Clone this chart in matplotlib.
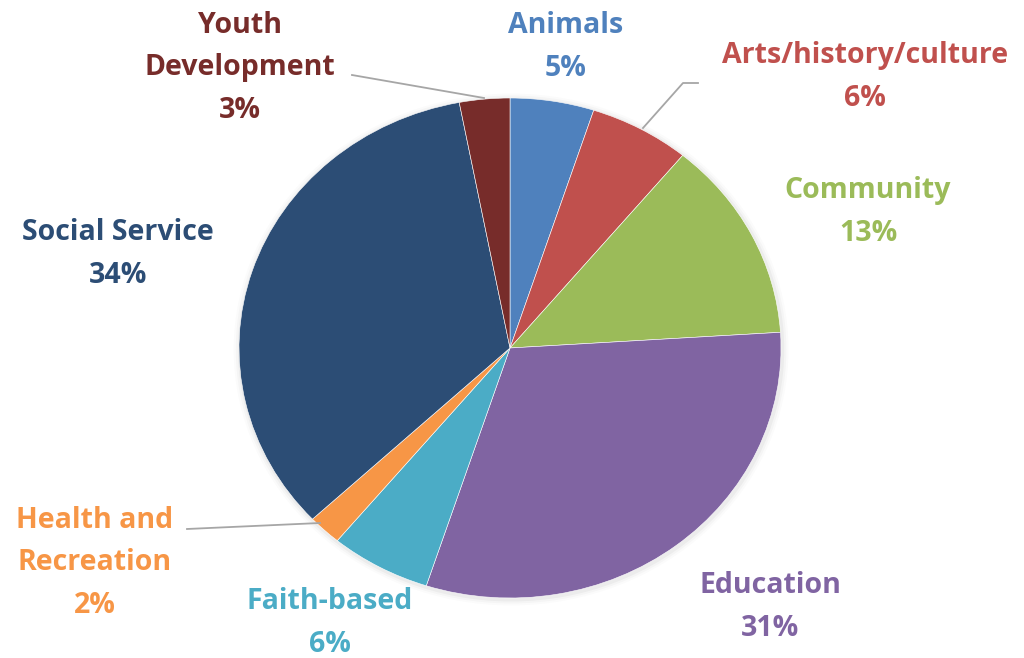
import matplotlib.pyplot as plt
from matplotlib.patches import Ellipse

categories = ["Animals", "Arts/history/culture", "Community", "Education",
              "Faith-based", "Health and\nRecreation", "Social Service",
              "Youth\nDevelopment"]
values = [5, 6, 13, 31, 6, 2, 34, 3]
colors = ["#4F81BD", "#C0504D", "#9BBB59", "#8064A2",
          "#4BACC6", "#F79646", "#2C4D75", "#772C2A"]

# pie centre / radii in pixels (the original is slightly squashed)
CX, CY, RX, RY = 510, 348, 271, 250
W, H = 1024, 658


def px(x, y):
    return (x - CX) / RX, (CY - y) / RY


fig = plt.figure(figsize=(W / 100, H / 100), dpi=100)
ax = fig.add_axes([0, 0, 1, 1])

# soft shadow
for i, a in enumerate([0.035, 0.025, 0.015]):
    s = 1 + 0.008 * (i + 1)
    ax.add_patch(Ellipse((0.004, -0.006), 2 * s, 2 * s, color="#000000",
                         alpha=a, lw=0, zorder=0))

ax.pie(values, colors=colors, startangle=90, counterclock=False,
       radius=1, wedgeprops=dict(linewidth=0.4, edgecolor="white"))

ax.set_aspect("auto")
ax.set_xlim(-CX / RX, (W - CX) / RX)
ax.set_ylim(-(H - CY) / RY, CY / RY)
ax.axis("off")

label_pos = [(566, 47), (865, 77), (868, 212), (770, 607),
             (330, 623), (95, 563), (118, 254), (240, 68)]

for name, v, c, (lx, ly) in zip(categories, values, colors, label_pos):
    x, y = px(lx, ly)
    ax.text(x, y, f"{name}\n{v}%", color=c, ha="center", va="center",
            fontsize=20.5, fontweight="bold", family="Open Sans",
            linespacing=1.6)

# leader lines
lines = [
    [(352, 75), (484, 98)],
    [(698, 83), (683, 83), (643, 128)],
    [(187, 529), (320, 523)],
]
for pts in lines:
    xs, ys = zip(*[px(a, b) for a, b in pts])
    ax.plot(xs, ys, color="#A6A6A6", lw=1.3, zorder=5)

fig.savefig("out.png", dpi=100, facecolor="white")
